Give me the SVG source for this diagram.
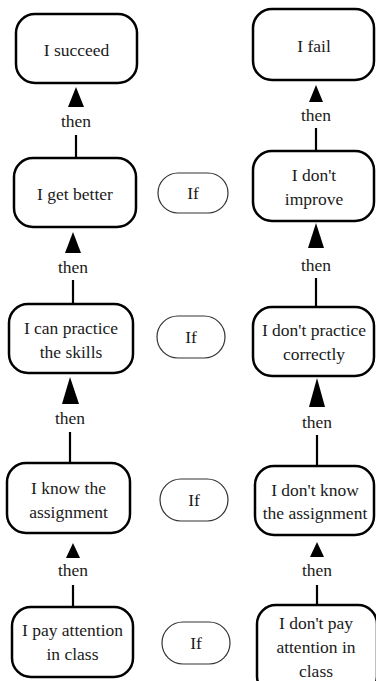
<svg xmlns="http://www.w3.org/2000/svg" width="376" height="681" viewBox="0 0 376 681">
  <style>
    .box { fill: #fff; stroke: #000; stroke-width: 2.5; }
    .pill { fill: #fff; stroke: #333; stroke-width: 1.2; }
    .lbl { font-family: "Liberation Serif", "Noto Serif", Tinos, Times, "DejaVu Serif", serif; font-size: 17.5px; fill: #1a1a1a; text-anchor: middle; }
    .wire { stroke: #000; stroke-width: 2.2; fill: none; }
    .head { fill: #000; }
  </style>
  <rect width="376" height="681" fill="#fff"/>

  <!-- connectors: stem from lower box, "then" label, arrowhead into upper box -->
  <g id="connectors">
    <!-- left column -->
    <line class="wire" x1="76" y1="135" x2="76" y2="158"/>
    <text class="lbl" x="76" y="127">then</text>
    <polygon class="head" points="76,87 68,107 84,107"/>

    <line class="wire" x1="73" y1="280" x2="73" y2="304"/>
    <text class="lbl" x="73" y="273">then</text>
    <polygon class="head" points="73,232 65,253 81,253"/>

    <line class="wire" x1="70" y1="432" x2="70" y2="463"/>
    <text class="lbl" x="70" y="424">then</text>
    <polygon class="head" points="70,377 62,404 79,404"/>

    <line class="wire" x1="73" y1="585" x2="73" y2="607"/>
    <text class="lbl" x="73" y="576">then</text>
    <polygon class="head" points="73,543 66,558 80,558"/>

    <!-- right column -->
    <line class="wire" x1="316" y1="128" x2="316" y2="151"/>
    <text class="lbl" x="316" y="121">then</text>
    <polygon class="head" points="316,85 309,102 323,102"/>

    <line class="wire" x1="316" y1="278" x2="316" y2="306"/>
    <text class="lbl" x="316" y="271">then</text>
    <polygon class="head" points="316,223 308,248 324,248"/>

    <line class="wire" x1="317" y1="435" x2="317" y2="467"/>
    <text class="lbl" x="317" y="428">then</text>
    <polygon class="head" points="317,378 309,407 325,407"/>

    <line class="wire" x1="317" y1="585" x2="317" y2="606"/>
    <text class="lbl" x="317" y="576">then</text>
    <polygon class="head" points="317,542 310,557 324,557"/>
  </g>

  <!-- left column: the good path -->
  <g id="succeed">
    <rect class="box" x="16" y="14" width="121" height="69" rx="19"/>
    <text class="lbl" x="76.5" y="56">I succeed</text>
  </g>
  <g id="get-better">
    <rect class="box" x="14" y="158" width="122" height="69" rx="19"/>
    <text class="lbl" x="75" y="200">I get better</text>
  </g>
  <g id="can-practice">
    <rect class="box" x="9" y="304" width="124" height="69" rx="19"/>
    <text class="lbl" x="71" y="334">I can practice</text>
    <text class="lbl" x="71" y="358">the skills</text>
  </g>
  <g id="know-assignment">
    <rect class="box" x="7" y="463" width="123" height="70" rx="19"/>
    <text class="lbl" x="68.5" y="494">I know the</text>
    <text class="lbl" x="68.5" y="518">assignment</text>
  </g>
  <g id="pay-attention">
    <rect class="box" x="12" y="607" width="121" height="70" rx="19"/>
    <text class="lbl" x="72.5" y="636">I pay attention</text>
    <text class="lbl" x="72.5" y="660">in class</text>
  </g>

  <!-- middle: "If" pills -->
  <g id="if-1">
    <rect class="pill" x="158" y="173" width="70" height="40" rx="20"/>
    <text class="lbl" x="193" y="199">If</text>
  </g>
  <g id="if-2">
    <rect class="pill" x="157" y="316" width="68" height="42" rx="21"/>
    <text class="lbl" x="191" y="343">If</text>
  </g>
  <g id="if-3">
    <rect class="pill" x="160" y="479" width="68" height="42" rx="21"/>
    <text class="lbl" x="194" y="506">If</text>
  </g>
  <g id="if-4">
    <rect class="pill" x="162" y="622" width="68" height="42" rx="21"/>
    <text class="lbl" x="196" y="649">If</text>
  </g>

  <!-- right column: the bad path -->
  <g id="fail">
    <rect class="box" x="253" y="9" width="121" height="71" rx="19"/>
    <text class="lbl" x="314" y="52">I fail</text>
  </g>
  <g id="dont-improve">
    <rect class="box" x="253" y="151" width="121" height="70" rx="19"/>
    <text class="lbl" x="314" y="181">I don't</text>
    <text class="lbl" x="314" y="205">improve</text>
  </g>
  <g id="dont-practice">
    <rect class="box" x="253" y="307" width="121" height="69" rx="19"/>
    <text class="lbl" x="314" y="336">I don't practice</text>
    <text class="lbl" x="314" y="360">correctly</text>
  </g>
  <g id="dont-know">
    <rect class="box" x="255" y="466" width="119" height="69" rx="19"/>
    <text class="lbl" x="315" y="496">I don't know</text>
    <text class="lbl" x="315" y="519">the assignment</text>
  </g>
  <g id="dont-pay-attention">
    <rect class="box" x="257" y="605" width="120" height="90" rx="19"/>
    <text class="lbl" x="316" y="629">I don't pay</text>
    <text class="lbl" x="316" y="653">attention in</text>
    <text class="lbl" x="316" y="677">class</text>
  </g>
</svg>
